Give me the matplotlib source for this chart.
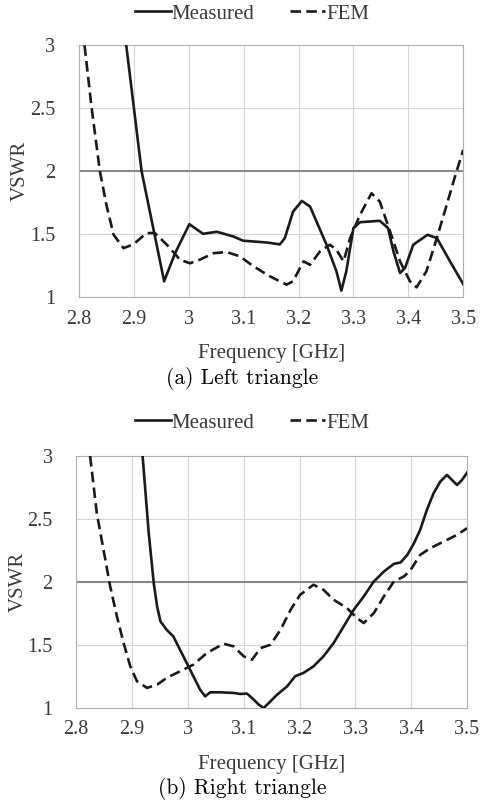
import numpy as np
from matplotlib import pyplot as plt

plt.rcParams['font.family'] = ['Liberation Serif', 'DejaVu Serif']

# (a) left triangle
left_meas_f = [2.886, 2.914, 2.955, 2.975, 3.001, 3.026, 3.051, 3.081, 3.099, 3.142, 3.166,
               3.175, 3.19, 3.206, 3.221, 3.251, 3.269, 3.278, 3.287, 3.30, 3.312, 3.348,
               3.363, 3.373, 3.385, 3.394, 3.409, 3.435, 3.452, 3.476, 3.5]
left_meas_v = [3.0, 2.0, 1.127, 1.35, 1.58, 1.504, 1.52, 1.483, 1.449, 1.435, 1.42,
               1.47, 1.68, 1.765, 1.72, 1.417, 1.206, 1.053, 1.206, 1.55, 1.596, 1.607,
               1.55, 1.364, 1.193, 1.232, 1.417, 1.496, 1.47, 1.285, 1.105]
left_fem_f = [2.81, 2.823, 2.838, 2.85, 2.863, 2.881, 2.899, 2.923, 2.938, 2.96, 2.984, 3.002,
              3.02, 3.045, 3.069, 3.093, 3.118, 3.148, 3.178, 3.19, 3.209, 3.221, 3.239,
              3.257, 3.269, 3.282, 3.294, 3.312, 3.333, 3.348, 3.367, 3.385, 3.403, 3.415,
              3.433, 3.452, 3.47, 3.485, 3.5]
left_fem_v = [3.0, 2.5, 2.0, 1.73, 1.496, 1.39, 1.42, 1.51, 1.51, 1.417, 1.298, 1.27,
              1.298, 1.35, 1.359, 1.325, 1.245, 1.166, 1.1, 1.127, 1.285, 1.258, 1.364,
              1.417, 1.377, 1.285, 1.47, 1.654, 1.826, 1.76, 1.52, 1.285, 1.127, 1.079,
              1.206, 1.47, 1.734, 1.958, 2.169]

# (b) right triangle
right_meas_f = [2.919, 2.93, 2.939, 2.945, 2.951, 2.962, 2.974, 2.986, 2.998, 3.01, 3.022,
                3.031, 3.04, 3.058, 3.082, 3.094, 3.106, 3.118, 3.127, 3.136, 3.148, 3.16,
                3.178, 3.192, 3.207, 3.225, 3.243, 3.261, 3.279, 3.297, 3.315, 3.333, 3.351,
                3.369, 3.381, 3.393, 3.405, 3.416, 3.428, 3.44, 3.452, 3.464, 3.473, 3.482,
                3.491, 3.5]
right_meas_v = [3.0, 2.387, 1.99, 1.806, 1.687, 1.621, 1.568, 1.462, 1.357, 1.251, 1.145,
                1.092, 1.124, 1.124, 1.119, 1.111, 1.114, 1.066, 1.026, 1.0, 1.053, 1.106,
                1.172, 1.251, 1.278, 1.33, 1.41, 1.515, 1.647, 1.779, 1.885, 2.004, 2.083,
                2.144, 2.155, 2.215, 2.308, 2.413, 2.572, 2.704, 2.797, 2.85, 2.81, 2.77,
                2.81, 2.868]
right_fem_f = [2.825, 2.837, 2.849, 2.861, 2.873, 2.885, 2.897, 2.909, 2.927, 2.945, 2.962,
               2.986, 3.01, 3.034, 3.064, 3.082, 3.1, 3.115, 3.13, 3.148, 3.166, 3.184,
               3.201, 3.225, 3.243, 3.261, 3.285, 3.303, 3.315, 3.333, 3.351, 3.369, 3.387,
               3.399, 3.416, 3.434, 3.458, 3.482, 3.5]
right_fem_v = [3.0, 2.546, 2.255, 1.964, 1.727, 1.515, 1.33, 1.211, 1.159, 1.185, 1.238,
               1.291, 1.344, 1.436, 1.51, 1.489, 1.41, 1.383, 1.475, 1.502, 1.621, 1.779,
               1.898, 1.978, 1.938, 1.859, 1.793, 1.713, 1.674, 1.753, 1.885, 2.004, 2.044,
               2.096, 2.215, 2.268, 2.321, 2.374, 2.427]

xticks = [2.8, 2.9, 3.0, 3.1, 3.2, 3.3, 3.4, 3.5]
xticklabels = ['2.8', '2.9', '3', '3.1', '3.2', '3.3', '3.4', '3.5']
yticks = [1, 1.5, 2, 2.5, 3]
yticklabels = ['1', '1.5', '2', '2.5', '3']

fig = plt.figure(figsize=(4.85, 8.10), dpi=100)

panels = [
    ([0.163, 0.633, 0.792, 0.311], left_meas_f, left_meas_v, left_fem_f, left_fem_v,
     '(a) Left triangle', 0.983, 0.533),
    ([0.157, 0.126, 0.806, 0.311], right_meas_f, right_meas_v, right_fem_f, right_fem_v,
     '(b) Right triangle', 0.478, 0.027),
]

for pos, mf, mv, ff, fv, caption, leg_y, cap_y in panels:
    ax = fig.add_axes(pos)
    ax.set_xlim(2.8, 3.5)
    ax.set_ylim(1, 3)
    ax.set_xticks(xticks)
    ax.set_xticklabels(xticklabels)
    ax.set_yticks(yticks)
    ax.set_yticklabels(yticklabels)
    ax.grid(True, color='#d4d4d4', linewidth=0.8)
    ax.axhline(2, color='#8a8a8a', linewidth=1.5, zorder=2)
    ax.tick_params(length=0, labelsize=14.5, colors='#3a3a3a')
    ax.tick_params(axis='x', pad=9)
    ax.tick_params(axis='y', pad=17)
    for s in ax.spines.values():
        s.set_color('#b0b0b0')
    l1, = ax.plot(mf, mv, color='#1a1a1a', linewidth=1.9, zorder=4)
    l2, = ax.plot(ff, fv, color='#1a1a1a', linewidth=1.9, linestyle=(0, (4, 2)), zorder=3)
    ax.set_xlabel('Frequency [GHz]', fontsize=15, color='#3a3a3a', labelpad=11)
    ax.set_ylabel('VSWR', fontsize=15, color='#3a3a3a', labelpad=0)
    fig.legend([l1, l2], ['Measured', 'FEM'], loc='center', bbox_to_anchor=(0.52, leg_y),
               ncol=2, frameon=False, fontsize=15, handlelength=1.7, handletextpad=0.05,
               columnspacing=1.7, labelcolor='#3a3a3a')
    fig.text(0.5, cap_y, caption, ha='center', va='center', fontsize=15.5,
             family=['cmr10', 'DejaVu Serif'])

plt.savefig('out.png', dpi=100)
